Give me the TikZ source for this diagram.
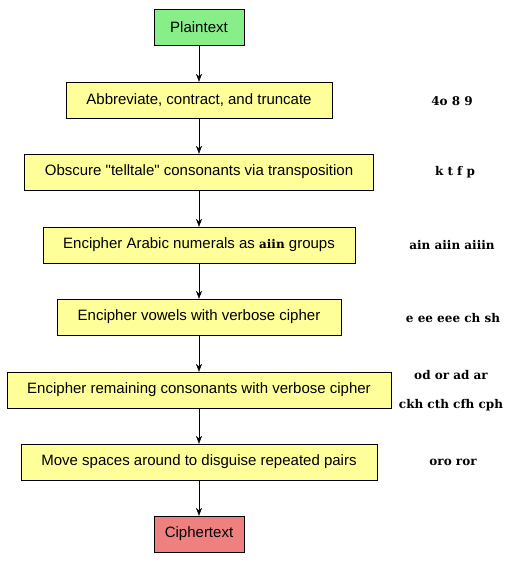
\documentclass[tikz,border=0pt]{standalone}
\usepackage{fontspec}
\setmainfont{Liberation Sans}
\newfontfamily\voyfont{DejaVu Serif}
\usepackage{tikz}
\usetikzlibrary{positioning, arrows.meta}
\definecolor{stepyellow}{RGB}{255,255,153}
\definecolor{plaingreen}{RGB}{136,238,136}
\definecolor{cipherred}{RGB}{238,128,128}

\begin{document}
\begin{tikzpicture}[x=1pt, y=-1pt, font=\fontsize{15}{18}\selectfont,
  stepbox/.style={draw, fill=stepyellow, minimum height=36pt, inner xsep=20.5pt},
  endbox/.style={draw, minimum height=36pt, minimum width=90pt},
  flow/.style={-{Stealth[length=8pt,width=6pt]}},
  glyphs/.style={font=\voyfont\bfseries\fontsize{12}{14}\selectfont}]

\useasboundingbox (0,0) rectangle (525,562);

% the steps
\node[endbox, fill=plaingreen] (plain) at (199,27) {Plaintext};
\node[stepbox] (abbrev) at (199,100) {Abbreviate, contract, and truncate};
\node[stepbox] (obscure) at (199,172) {Obscure \textquotedbl telltale\textquotedbl{} consonants via transposition};
\node[stepbox] (numerals) at (199,245) {Encipher Arabic numerals as {\voyfont\bfseries\fontsize{12}{14}\selectfont aiin} groups};
\node[stepbox] (vowels) at (199,317) {Encipher vowels with verbose cipher};
\node[stepbox] (consonants) at (199,390) {Encipher remaining consonants with verbose cipher};
\node[stepbox] (spaces) at (199,462) {Move spaces around to disguise repeated pairs};
\node[endbox, fill=cipherred] (cipher) at (199,534) {Ciphertext};

\foreach \a/\b in {plain/abbrev, abbrev/obscure, obscure/numerals, numerals/vowels,
                   vowels/consonants, consonants/spaces, spaces/cipher}
  \draw[flow] (\a) -- (\b);

% examples on the right
\node[glyphs] (g1) at (452,101) {4o 8 9};
\node[glyphs] (g2) at (455,172) {k t f p};
\node[glyphs] (g3) at (452,245) {ain aiin aiiin};
\node[glyphs] (g4) at (453,318) {e ee eee ch sh};
\node[glyphs] (g5) at (451,375) {od or ad ar};
\node[glyphs] (g6) at (451,405) {ckh cth cfh cph};
\node[glyphs] (g7) at (453,462) {oro ror};
\end{tikzpicture}
\end{document}
